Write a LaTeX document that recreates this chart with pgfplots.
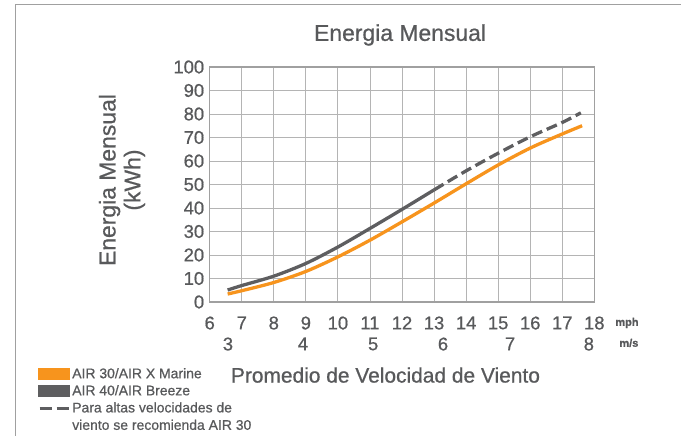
\documentclass[border=0pt]{standalone}
\usepackage{pgfplots}
\pgfplotsset{compat=1.18}
\usepackage{fontspec}
\setmainfont[FakeBold=1.2]{Liberation Sans}
\newfontfamily\med[FakeBold=0.7]{Liberation Sans}
\definecolor{orangeL}{HTML}{F7941D}
\definecolor{grayL}{HTML}{5E5E60}
\definecolor{txt}{HTML}{58595B}
\definecolor{gridc}{HTML}{B4B4B4}
\definecolor{framec}{HTML}{A0A0A0}
\begin{document}
\begin{tikzpicture}
\useasboundingbox (0,0) rectangle (681bp,436bp);
\draw[color=framec, line width=1.2bp] (15.5bp,0) -- (15.5bp,431.5bp) -- (681bp,431.5bp);
\begin{axis}[
  at={(209.7bp,134bp)}, anchor=south west,
  scale only axis, width=384.6bp, height=235bp,
  xmin=6, xmax=18, ymin=0, ymax=100,
  clip=false,
  xtick={6,...,18}, ytick={0,10,...,100},
  grid=major, grid style={gridc, line width=0.9bp},
  axis line style={color=framec, line width=1.3bp},
  major tick length=0pt,
  tick label style={font=\med\fontsize{18.5}{20}\selectfont, text=txt},
  /pgf/number format/assume math mode=true,
  xticklabel style={yshift=-11bp},
  yticklabel style={xshift=-2bp},
  extra x ticks={6.57,8.91,11.1,13.28,15.37,17.83},
  extra x tick labels={3,4,5,6,7,8},
  extra x tick style={grid=none, xticklabel style={yshift=-21bp}},
  title={Energia Mensual},
  title style={at={(axis description cs:0.495,1.111)}, anchor=center, font=\med\fontsize{23}{26}\selectfont, text=txt},
  xlabel={Promedio de Velocidad de Viento},
  xlabel style={at={(axis description cs:0.457,-0.311)}, anchor=center, font=\med\fontsize{21}{24}\selectfont, text=txt},
  ylabel={Energia Mensual\\(kWh)},
  ylabel style={at={(axis description cs:-0.228,0.519)}, anchor=center, align=center, font=\med\fontsize{23}{25}\selectfont, text=txt},
  legend style={at={(axis description cs:-0.447,-0.272)}, anchor=north west, draw=none, fill=none,
    font=\med\fontsize{14}{17.5}\selectfont, text=txt, cells={align=left}, row sep=1.5bp, inner sep=0pt},
  legend cell align=left,
]
\addplot[orangeL, line width=3.3bp, smooth,
  legend image code/.code={\fill[orangeL] (0bp,-4bp) rectangle (29bp,4.5bp);}]
  coordinates {(6.56,3.4) (7,4.8) (8,8.3) (9,13.0) (10,19.2) (11,26.3) (12,34.1) (13,42.1) (14,50.3) (15,58.3) (16,65.5) (17,71.5) (17.62,75.0)};
\addlegendentry{AIR 30/AIR X Marine}
\addplot[grayL, line width=3.3bp, smooth,
  legend image code/.code={\fill[grayL] (0bp,-4bp) rectangle (29bp,4.5bp);}]
  coordinates {(6.56,5.1) (7,7.0) (8,11.0) (9,16.4) (10,23.4) (11,31.3) (12,39.4) (13,47.7)};
\addlegendentry{AIR 40/AIR Breeze}
\addplot[grayL, line width=3.3bp, smooth, dash pattern=on 11bp off 5bp,
  legend image code/.code={\draw[grayL, line width=3bp, dash pattern=on 12bp off 5bp] (0bp,8bp) -- (29bp,8bp);}]
  coordinates {(13,47.7) (14,55.8) (15,63.3) (16,70.3) (17,76.4) (17.58,80.5)};
\addlegendentry{Para altas velocidades de\\viento se recomienda AIR 30}
\node[font=\bfseries\fontsize{11}{12}\selectfont, text=txt] at (axis description cs:1.085,-0.089) {mph};
\node[font=\bfseries\fontsize{11}{12}\selectfont, text=txt] at (axis description cs:1.09,-0.174) {m/s};
\end{axis}
\end{tikzpicture}
\end{document}
